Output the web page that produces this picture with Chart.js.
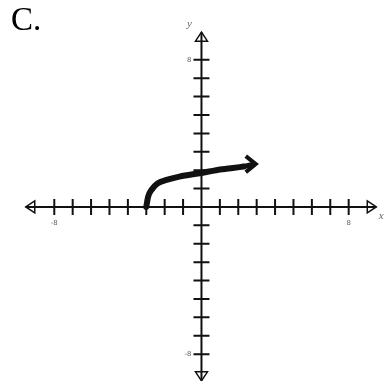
<!DOCTYPE html>
<html>
<head>
<meta charset="utf-8">
<script src="https://cdn.jsdelivr.net/npm/chart.js@4"></script>
<style>
    html, body { margin: 0; padding: 0; background: #fff; }
    #wrap { position: relative; width: 384px; height: 381px; }
    #title { position: absolute; left: 11px; top: 0px; font-family: "Liberation Serif", "Times New Roman", serif; font-size: 33px; line-height: 38px; color: #000; }
</style>
</head>
<body>
<div id="wrap">
    <canvas id="graph" width="384" height="381"></canvas>
    <div id="title">C.</div>
</div>
<script>
// graph of the curve (units of the grid)
const curveX = [-3, -2.9, -2.7, -2.4, -1.9, -1.2, 0, 0.8, 1.6, 2.3];
const curveY = [0, 0.55, 0.95, 1.27, 1.47, 1.65, 1.85, 2.0, 2.1, 2.2];
const arrowTip = [2.95, 2.33];

// axis ticks: every unit, only the ends are labelled
const tickValues = [-8, -7, -6, -5, -4, -3, -2, -1, 1, 2, 3, 4, 5, 6, 7, 8];
const tickLabels = ['-8', '8'];
const axisEnd = { xMin: -9.55, xMax: 9.5, yMin: -9.45, yMax: 9.5 };

const ink = '#111';

function arrowOpen(ctx, x, y, dir) {
    // outlined triangle at an axis end, dir = 'left' | 'right' | 'up' | 'down'
    const L = 9, W = 6;
    ctx.beginPath();
    if (dir === 'left') { ctx.moveTo(x, y); ctx.lineTo(x + L, y - W); ctx.lineTo(x + L, y + W); }
    if (dir === 'right') { ctx.moveTo(x, y); ctx.lineTo(x - L, y - W); ctx.lineTo(x - L, y + W); }
    if (dir === 'up') { ctx.moveTo(x, y); ctx.lineTo(x - W, y + L); ctx.lineTo(x + W, y + L); }
    if (dir === 'down') { ctx.moveTo(x, y); ctx.lineTo(x - W, y - L); ctx.lineTo(x + W, y - L); }
    ctx.closePath();
    ctx.stroke();
}

const axesPlugin = {
    id: 'crossAxes',
    beforeDatasetsDraw(chart) {
        const { ctx, scales: { x, y } } = chart;
        const ox = x.getPixelForValue(0), oy = y.getPixelForValue(0);
        ctx.save();
        ctx.strokeStyle = ink;
        ctx.lineWidth = 2;

        ctx.beginPath();
        ctx.moveTo(x.getPixelForValue(axisEnd.xMin), oy);
        ctx.lineTo(x.getPixelForValue(axisEnd.xMax), oy);
        ctx.moveTo(ox, y.getPixelForValue(axisEnd.yMin));
        ctx.lineTo(ox, y.getPixelForValue(axisEnd.yMax));
        ctx.stroke();

        ctx.beginPath();
        tickValues.forEach((v) => {
            const px = x.getPixelForValue(v), py = y.getPixelForValue(v);
            ctx.moveTo(px, oy - 8); ctx.lineTo(px, oy + 8);
            ctx.moveTo(ox - 8, py); ctx.lineTo(ox + 8, py);
        });
        ctx.stroke();

        ctx.lineWidth = 1.5;
        arrowOpen(ctx, x.getPixelForValue(axisEnd.xMin), oy, 'left');
        arrowOpen(ctx, x.getPixelForValue(axisEnd.xMax), oy, 'right');
        arrowOpen(ctx, ox, y.getPixelForValue(axisEnd.yMax), 'up');
        arrowOpen(ctx, ox, y.getPixelForValue(axisEnd.yMin), 'down');

        ctx.fillStyle = '#666';
        ctx.font = '7px "DejaVu Sans", sans-serif';
        ctx.textAlign = 'center';
        ctx.textBaseline = 'middle';
        ctx.fillText(tickLabels[0], x.getPixelForValue(-8), oy + 16);
        ctx.fillText(tickLabels[1], x.getPixelForValue(8), oy + 16);
        ctx.textAlign = 'right';
        ctx.fillText(tickLabels[1], ox - 10, y.getPixelForValue(8));
        ctx.fillText(tickLabels[0], ox - 10, y.getPixelForValue(-8));

        ctx.font = 'italic 11px "Liberation Serif", serif';
        ctx.textAlign = 'center';
        ctx.fillText('y', ox - 12, y.getPixelForValue(axisEnd.yMax) - 8);
        ctx.fillText('x', x.getPixelForValue(axisEnd.xMax) + 5, oy + 9);
        ctx.restore();
    },
    afterDatasetsDraw(chart) {
        // chevron at the end of the curve
        const { ctx, scales: { x, y } } = chart;
        const tx = x.getPixelForValue(arrowTip[0]), ty = y.getPixelForValue(arrowTip[1]);
        ctx.save();
        ctx.strokeStyle = ink;
        ctx.lineWidth = 4;
        ctx.lineJoin = 'miter';
        ctx.beginPath();
        ctx.moveTo(tx - 10, ty - 8);
        ctx.lineTo(tx, ty);
        ctx.lineTo(tx - 10, ty + 8);
        ctx.stroke();
        ctx.beginPath();
        ctx.lineWidth = 5;
        ctx.moveTo(x.getPixelForValue(curveX[curveX.length - 1]), y.getPixelForValue(curveY[curveY.length - 1]));
        ctx.lineTo(tx - 2, ty);
        ctx.stroke();
        ctx.restore();
    }
};

new Chart(document.getElementById('graph').getContext('2d'), {
    type: 'line',
    data: {
        datasets: [{
            data: curveX.map((v, i) => ({ x: v, y: curveY[i] })),
            borderColor: ink,
            borderWidth: 6,
            borderCapStyle: 'round',
            tension: 0.4,
            cubicInterpolationMode: 'monotone',
            pointRadius: 0,
            fill: false
        }]
    },
    options: {
        responsive: false,
        animation: false,
        layout: { padding: 0 },
        plugins: { legend: { display: false }, tooltip: { enabled: false } },
        scales: {
            x: { type: 'linear', display: false, min: -10.95, max: 9.92 },
            y: { type: 'linear', display: false, min: -9.46, max: 11.25 }
        }
    },
    plugins: [axesPlugin]
});
</script>
</body>
</html>
